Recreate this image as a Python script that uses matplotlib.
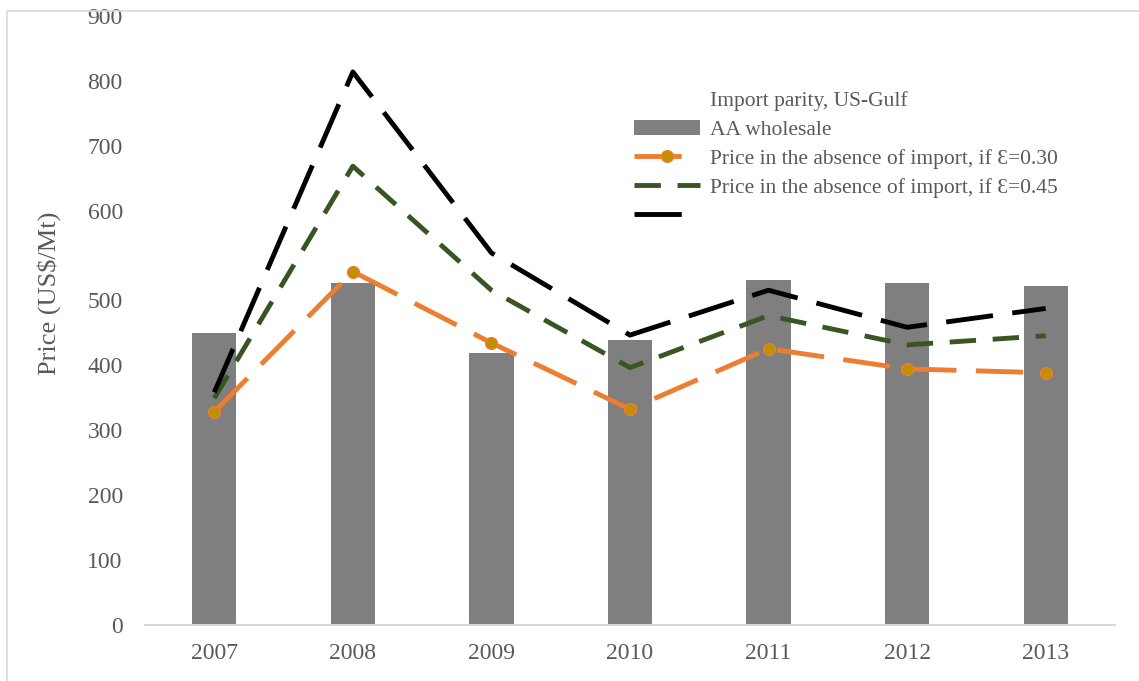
import numpy as np
import matplotlib
matplotlib.use('Agg')
import matplotlib.pyplot as plt
from matplotlib.lines import Line2D
from matplotlib.patches import Rectangle

plt.rcParams['font.family'] = ['Liberation Serif', 'DejaVu Serif']
plt.rcParams['lines.scale_dashes'] = False

# Data (US$/Mt)
years = ['2007', '2008', '2009', '2010', '2011', '2012', '2013']
aa_wholesale = [449, 519, 418, 438, 522, 519, 516]
price_e030 = [328, 532, 434, 332, 425, 394, 388]
price_e045 = [349, 669, 511, 396, 476, 431, 445]
import_parity = [358, 814, 553, 446, 511, 458, 487]

legend_labels = ['Import parity, US-Gulf', 'AA wholesale',
                 'Price in the absence of import, if \u0190=0.30',
                 'Price in the absence of import, if \u0190=0.45', '']
y_ticks = [0, 100, 200, 300, 400, 500, 600, 700, 800, 900]

# y axis is stretched between 500 and 600
knots_v = [-1000, 0, 500, 600, 900, 2000]
knots_d = [-1000, 0, 500, 636.9, 936.9, 2036.9]


def fwd(v):
    return np.interp(v, knots_v, knots_d)


def inv(d):
    return np.interp(d, knots_d, knots_v)


text_col = '#595959'
fig = plt.figure(figsize=(11.39, 6.81), dpi=100)
ax = fig.add_axes([0.1273, 0.0822, 0.8516, 0.8943])

x = np.arange(len(years))
bars = ax.bar(x, aa_wholesale, width=0.32, color='#7f7f7f', zorder=1)
l1, = ax.plot(x, price_e030, color='#ed7d31', lw=3.5, dashes=(34, 14),
              marker='o', markersize=8.5, markerfacecolor='#bf9000',
              markeredgecolor='#ed7d31', markeredgewidth=1, zorder=3)
l2, = ax.plot(x, price_e045, color='#375623', lw=3.5, dashes=(19, 12), zorder=3)
l3, = ax.plot(x, import_parity, color='black', lw=3.5, dashes=(34, 14), zorder=3)

ax.set_yscale('function', functions=(fwd, inv))
ax.set_ylim(0, 900)
ax.set_xlim(-0.5, len(years) - 0.5)
ax.set_yticks(y_ticks)
ax.set_yticklabels([str(t) for t in y_ticks])
ax.set_xticks(x)
ax.set_xticklabels(years)
ax.tick_params(axis='both', length=0, labelsize=17, labelcolor=text_col)
ax.tick_params(axis='y', pad=16)
ax.tick_params(axis='x', pad=13)

for s in ['top', 'right', 'left']:
    ax.spines[s].set_visible(False)
ax.spines['bottom'].set_color('#d9d9d9')
ax.spines['bottom'].set_linewidth(1.5)

ax.set_ylabel('Price (US$/Mt)', fontsize=19, color=text_col)
ax.yaxis.set_label_coords(-0.087, 0.545)

blank = Line2D([], [], color='none')
ax.legend([blank, bars, l1, l2, l3], legend_labels, loc='upper left',
          bbox_to_anchor=(0.495, 0.891), frameon=False, fontsize=15.5,
          labelcolor=text_col, handlelength=3.1, handletextpad=0.42,
          labelspacing=0.41, borderaxespad=0)

# outer chart frame
fig.patches.append(Rectangle((7 / 1139, -0.05), 1.1, 0.05 + 1 - 11.5 / 681,
                             transform=fig.transFigure, fill=False,
                             edgecolor='#d9d9d9', lw=1.2))

fig.savefig('out.png', dpi=100)
